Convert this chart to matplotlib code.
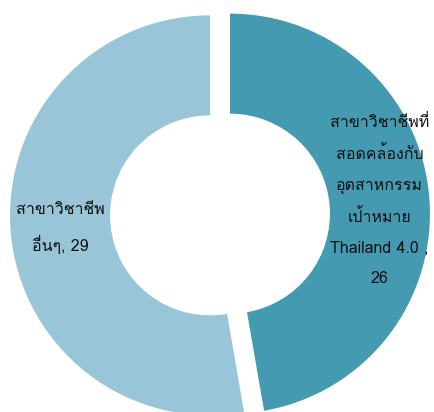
import matplotlib
matplotlib.use("Agg")
import matplotlib.pyplot as plt

categories = ["สาขาวิชาชีพที่\nสอดคล้องกับ\nอุตสาหกรรม\nเป้าหมาย\nThailand 4.0", "สาขาวิชาชีพ\nอื่นๆ"]
separators = [" ,\n", ", "]
values = [26, 29]
colors = ["#449AB1", "#98C5D7"]

labels = [f"{c}{s}{v}" for c, s, v in zip(categories, separators, values)]

plt.rcParams['font.family'] = ['Loma', 'DejaVu Sans']

fig = plt.figure(figsize=(4.35, 4.12), dpi=100)
ax = fig.add_axes([0, 0, 1, 1])
wedges, texts = ax.pie(values, labels=labels, colors=colors, startangle=90,
                       counterclock=False, explode=[0.05, 0.05],
                       labeldistance=0.75,
                       wedgeprops=dict(width=0.5, edgecolor='none'),
                       textprops=dict(fontsize=11.5, color='#111111'))
for t in texts:
    t.set_horizontalalignment('center')
    t.set_verticalalignment('center')
    t.set_multialignment('center')
    t.set_linespacing(2.2)
ax.set_xlim(-1.1, 1.075)
ax.set_ylim(-0.9875, 1.0725)
fig.savefig("out.png", dpi=100)
